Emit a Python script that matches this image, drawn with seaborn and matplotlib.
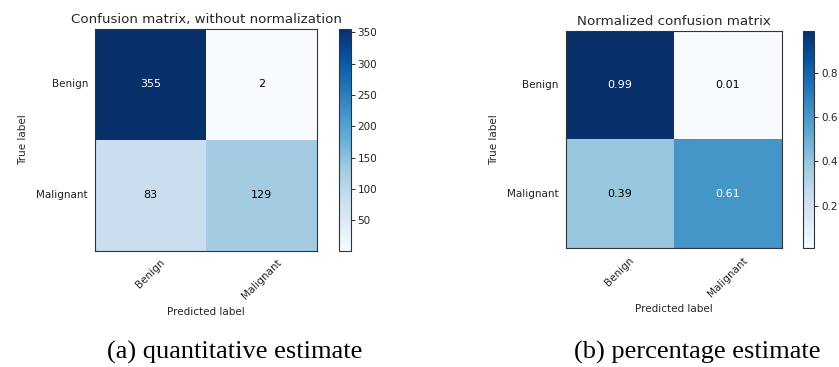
import numpy as np
import matplotlib
matplotlib.use("Agg")
import matplotlib.pyplot as plt
import seaborn as sns

classes = ["Benign", "Malignant"]
counts = [[355, 2], [83, 129]]
normalized = [[0.99, 0.01], [0.39, 0.61]]
count_ticks = [50, 100, 150, 200, 250, 300, 350]
norm_ticks = [0.2, 0.4, 0.6, 0.8]
titles = ["Confusion matrix, without normalization", "Normalized confusion matrix"]
captions = ["(a) quantitative estimate", "(b) percentage estimate"]

sns.set_style("white")
plt.rcParams['font.family'] = ['DejaVu Sans']

W, H = 839, 367
fig = plt.figure(figsize=(W / 100, H / 100), dpi=100)

def box(x0, y0, x1, y1):
    return [x0 / W, (H - y1) / H, (x1 - x0) / W, (y1 - y0) / H]

panels = [
    (counts, "d", count_ticks, box(95, 29, 317, 250.5), box(339, 29, 350.5, 250.5), titles[0]),
    (normalized, ".2f", norm_ticks, box(565.5, 30.5, 782, 248), box(803, 30.5, 814, 248), titles[1]),
]

for data, fmt, cticks, axpos, cpos, title in panels:
    arr = np.array(data)
    ax = fig.add_axes(axpos)
    cax = fig.add_axes(cpos)
    sns.heatmap(arr, ax=ax, cbar_ax=cax, cmap="Blues", annot=True, fmt=fmt,
                annot_kws={"fontsize": 8}, xticklabels=classes, yticklabels=classes,
                cbar_kws={"ticks": cticks}, square=False)
    thresh = arr.max() / 2.0
    for t, v in zip(ax.texts, arr.flatten()):
        t.set_color("white" if v > thresh else "black")
    for s in ax.spines.values():
        s.set_visible(True)
        s.set_color("#333333")
        s.set_linewidth(0.8)
    ax.tick_params(axis="both", length=3, width=0.7, labelsize=7.5, color="#333333",
                   labelcolor="#222222", pad=2)
    ax.set_xticklabels(classes, rotation=45, ha="center", rotation_mode="default")
    ax.set_yticklabels(classes, rotation=0)
    ax.set_title(title, fontsize=9.6, pad=4)
    ax.set_xlabel("Predicted label", fontsize=7.5, labelpad=4)
    ax.set_ylabel("True label", fontsize=7.5, labelpad=6)
    cb = ax.collections[0].colorbar
    cb.outline.set_visible(True)
    cb.outline.set_edgecolor("#333333")
    cb.outline.set_linewidth(0.8)
    cax.tick_params(length=3, width=0.7, labelsize=7.5, pad=2, color="#333333",
                    labelcolor="#222222")

for x, cap in zip([235, 697], captions):
    fig.text(x / W, (H - 352) / H, cap, ha="center", va="center",
             fontsize=19, family="Liberation Serif", color="black")

fig.savefig("out.png", dpi=100)
